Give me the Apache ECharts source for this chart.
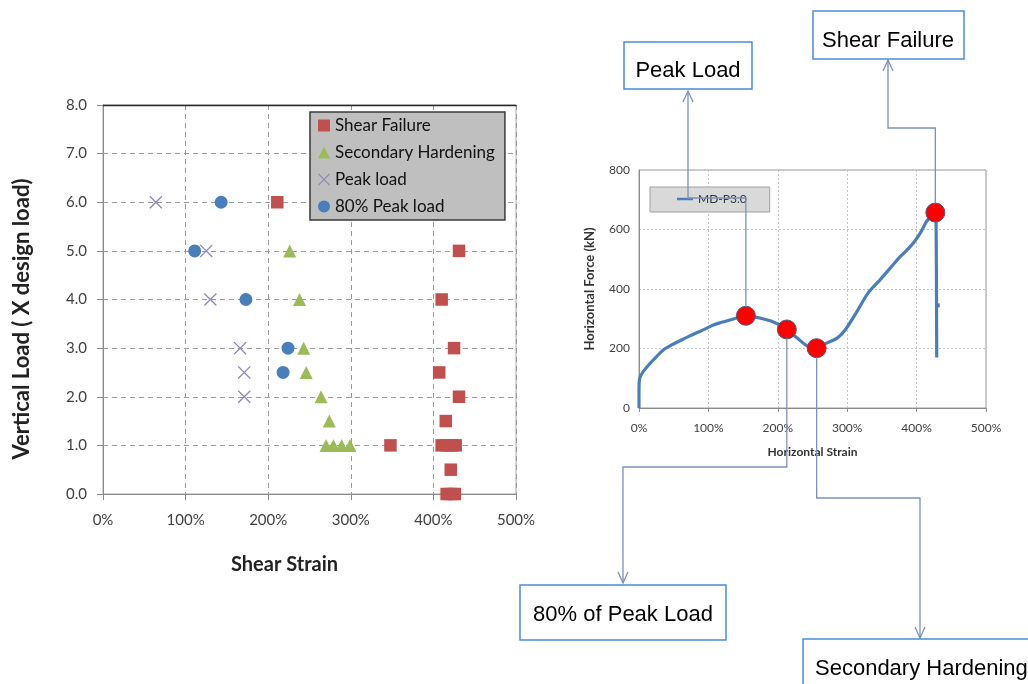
<!DOCTYPE html>
<html>
<head>
<meta charset="utf-8">
<script src="https://cdn.jsdelivr.net/npm/echarts@6/dist/echarts.min.js"></script>
<style>
html,body{margin:0;padding:0;background:#fff;}
#c{width:1028px;height:684px;}
</style>
</head>
<body>
<div id="c"></div>
<script>
// ---------- Left chart data (x in %, y in x design load) ----------
const shearFailureX = [211, 431, 410, 425, 407, 431, 415, 348, 410, 416, 422, 427, 421, 416, 421, 426];
const shearFailureY = [6, 5, 4, 3, 2.5, 2, 1.5, 1, 1, 1, 1, 1, 0.5, 0, 0, 0];
const secHardX = [226, 238, 243, 246, 264, 274, 270, 279, 289, 299];
const secHardY = [5, 4, 3, 2.5, 2, 1.5, 1, 1, 1, 1];
const peakX = [64, 125, 130, 166, 171, 171];
const peakY = [6, 5, 4, 3, 2.5, 2];
const peak80X = [143, 111, 173, 224, 218];
const peak80Y = [6, 5, 4, 3, 2.5];
const leftNames = ['Shear Failure', 'Secondary Hardening', 'Peak load', '80% Peak load'];

// ---------- Right chart data (x in %, y in kN) ----------
const curveX = [0, 0, 1, 6, 16, 25, 35, 47, 59, 71, 83, 95, 107, 119, 131, 143, 154, 164, 177, 189, 201, 213, 228, 244, 256, 270, 285, 297, 314, 330, 347, 362, 376, 386, 395, 405, 414, 422, 427, 428, 429];
const curveY = [0, 60, 100, 122, 150, 172, 195, 212, 226, 240, 253, 265, 279, 288, 296, 304, 310, 307, 301, 293, 281, 264, 235, 206, 201, 218, 234, 262, 324, 386, 430, 470, 508, 531, 554, 587, 626, 648, 657, 650, 170];
const tailX = [431, 431.5];
const tailY = [352, 338];
const markX = [154, 213, 256, 427];
const markY = [310, 264, 201, 657];
const curveName = 'MD-P3.0';

const zip = (a, b) => a.map((v, i) => [v, b[i]]);
const xPath = 'path://M0,0.7L0.7,0L10,9.3L9.3,10Z M9.3,0L10,0.7L0.7,10L0,9.3Z';
const FONT = 'Lato, "Open Sans", sans-serif';

const chart = echarts.init(document.getElementById('c'), null, {renderer: 'canvas'});

const option = {
  backgroundColor: '#ffffff',
  animation: false,
  textStyle: {fontFamily: FONT},
  grid: [
    {left: 103, top: 105, width: 413, height: 389, show: true, borderColor: '#a6a6a6', borderWidth: 1, backgroundColor: 'transparent'},
    {left: 639, top: 170, width: 347, height: 238, show: true, borderColor: '#9a9a9a', borderWidth: 1, backgroundColor: 'transparent'}
  ],
  legend: [
    {
      data: [
        {name: leftNames[0], icon: 'rect'},
        {name: leftNames[1], icon: 'triangle'},
        {name: leftNames[2], icon: xPath},
        {name: leftNames[3], icon: 'circle'}
      ],
      orient: 'vertical', left: 310, top: 112,
      padding: [5, 10, 5, 8],
      itemWidth: 12, itemHeight: 12, itemGap: 10,
      backgroundColor: '#bfbfbf', borderColor: '#3a3a3a', borderWidth: 1.5,
      textStyle: {fontSize: 17, color: '#111', fontFamily: FONT},
      selectedMode: false
    },
    {
      data: [{name: curveName, icon: 'rect'}],
      left: 650, top: 187,
      padding: [6, 23, 7, 27],
      itemWidth: 16, itemHeight: 2.5,
      backgroundColor: '#d9d9d9', borderColor: '#a0a0a0', borderWidth: 1,
      textStyle: {fontSize: 12, color: '#333', fontFamily: FONT},
      selectedMode: false
    }
  ],
  xAxis: [
    {
      gridIndex: 0, type: 'value', min: 0, max: 500, interval: 100,
      name: 'Shear Strain', nameLocation: 'middle', nameGap: 61,
      nameTextStyle: {fontSize: 20, fontWeight: 'bold', color: '#222', fontFamily: FONT, padding: [0, 50, 0, 0]},
      axisLine: {show: true, lineStyle: {color: '#8c8c8c', width: 1}},
      axisTick: {show: true, length: 6, lineStyle: {color: '#8c8c8c'}},
      axisLabel: {formatter: '{value}%', fontSize: 15, color: '#404040', margin: 19, fontFamily: FONT},
      splitLine: {show: true, lineStyle: {color: '#9a9a9a', type: [5, 4], width: 1}}
    },
    {
      gridIndex: 0, type: 'value', min: 0, max: 500, position: 'top',
      axisLine: {show: true, lineStyle: {color: '#2a2a2a', width: 1.3}},
      axisTick: {show: false}, axisLabel: {show: false}, splitLine: {show: false}
    },
    {
      gridIndex: 1, type: 'value', min: 0, max: 500, interval: 100,
      name: 'Horizontal Strain', nameLocation: 'middle', nameGap: 38,
      nameTextStyle: {fontSize: 12, fontWeight: 'bold', color: '#333', fontFamily: FONT},
      axisLine: {show: true, lineStyle: {color: '#8c8c8c', width: 1}},
      axisTick: {show: true, length: 4, lineStyle: {color: '#8c8c8c'}},
      axisLabel: {formatter: '{value}%', fontSize: 12, color: '#404040', margin: 14, fontFamily: FONT},
      splitLine: {show: true, lineStyle: {color: '#c4c4c4', type: [2, 2], width: 1}}
    }
  ],
  yAxis: [
    {
      gridIndex: 0, type: 'value', min: 0, max: 8, interval: 1,
      name: 'Vertical Load ( X design load)', nameLocation: 'middle', nameGap: 70,
      nameTextStyle: {fontSize: 22, fontWeight: 'bold', color: '#222', fontFamily: FONT, padding: [0, 39, 0, 0]},
      axisLine: {show: true, lineStyle: {color: '#8c8c8c', width: 1}},
      axisTick: {show: true, length: 6, lineStyle: {color: '#8c8c8c'}},
      axisLabel: {formatter: v => v.toFixed(1), fontSize: 15, color: '#404040', margin: 16, fontFamily: FONT},
      splitLine: {show: true, lineStyle: {color: '#9a9a9a', type: [5, 4], width: 1}}
    },
    {
      gridIndex: 1, type: 'value', min: 0, max: 800, interval: 200,
      name: 'Horizontal Force (kN)', nameLocation: 'middle', nameGap: 43,
      nameTextStyle: {fontSize: 13, fontWeight: 'bold', color: '#333', fontFamily: FONT},
      axisLine: {show: true, lineStyle: {color: '#8c8c8c', width: 1}},
      axisTick: {show: false},
      axisLabel: {fontSize: 12, color: '#404040', margin: 9, fontFamily: FONT},
      splitLine: {show: true, lineStyle: {color: '#c4c4c4', type: [2, 2], width: 1}}
    }
  ],
  series: [
    {name: leftNames[0], type: 'scatter', xAxisIndex: 0, yAxisIndex: 0, symbol: 'rect', symbolSize: 12.5,
     itemStyle: {color: '#c0504d', opacity: 1}, data: zip(shearFailureX, shearFailureY)},
    {name: leftNames[1], type: 'scatter', xAxisIndex: 0, yAxisIndex: 0, symbol: 'triangle', symbolSize: 13,
     itemStyle: {color: '#9bbb59', opacity: 1}, data: zip(secHardX, secHardY)},
    {name: leftNames[2], type: 'scatter', xAxisIndex: 0, yAxisIndex: 0, symbol: xPath, symbolSize: 13,
     itemStyle: {color: '#8f86b8', opacity: 1}, data: zip(peakX, peakY)},
    {name: leftNames[3], type: 'scatter', xAxisIndex: 0, yAxisIndex: 0, symbol: 'circle', symbolSize: 13,
     itemStyle: {color: '#4a7ebb', opacity: 1}, data: zip(peak80X, peak80Y)},
    {name: curveName, type: 'line', xAxisIndex: 2, yAxisIndex: 1, symbol: 'none', smooth: 0.3,
     lineStyle: {color: '#4a7ebb', width: 3.2}, itemStyle: {color: '#4a7ebb'}, data: zip(curveX, curveY)},
    {name: 'tail', type: 'line', xAxisIndex: 2, yAxisIndex: 1, symbol: 'none',
     lineStyle: {color: '#4a7ebb', width: 3}, data: zip(tailX, tailY)},
    {name: 'marks', type: 'scatter', xAxisIndex: 2, yAxisIndex: 1, symbol: 'circle', symbolSize: 19, z: 5,
     itemStyle: {color: '#ff0000', borderColor: '#4d5a78', borderWidth: 1, opacity: 1}, data: zip(markX, markY)}
  ]
};
chart.setOption(option);

// ---------- Callout annotations ----------
const px = (x, y) => chart.convertToPixel({gridIndex: 1}, [x, y]);
const mPeak = px(markX[0], markY[0]);
const m80 = px(markX[1], markY[1]);
const mSec = px(markX[2], markY[2]);
const mFail = px(markX[3], markY[3]);
const LC = '#7b92b6';
const r = 9;

function line(points) {
  return {type: 'polyline', z: 100, shape: {points}, style: {stroke: LC, lineWidth: 1.3, fill: null}};
}
function arrowUp(x, y) { return line([[x - 5, y + 11], [x, y], [x + 5, y + 11]]); }
function arrowDown(x, y) { return line([[x - 5, y - 11], [x, y], [x + 5, y - 11]]); }
function box(x, y, w, h, text, tx, ty, align) {
  return [
    {type: 'rect', z: 100, shape: {x, y, width: w, height: h},
     style: {fill: '#ffffff', stroke: '#4a8fd4', lineWidth: 1.5}},
    {type: 'text', z: 101, x: tx, y: ty,
     style: {text, fill: '#000', font: '22px "Liberation Sans", Arial, sans-serif', align: align || 'center', verticalAlign: 'middle'}}
  ];
}

const g = [];
g.push(...box(624, 42, 128, 47, 'Peak Load', 688, 71));
g.push(...box(813, 11, 151, 48, 'Shear Failure', 888, 41));
g.push(...box(520, 585, 206, 55, '80% of Peak Load', 623, 615));
g.push(...box(803, 639, 240, 60, 'Secondary Hardening', 815, 669, 'left'));

// Peak load connector (passes through the legend entry)
g.push(line([[688, 91], [688, 198], [mPeak[0], 198], [mPeak[0], mPeak[1] - r]]));
g.push(arrowUp(688, 91));
// Shear failure connector
g.push(line([[888, 60], [888, 128], [mFail[0], 128], [mFail[0], mFail[1] - r]]));
g.push(arrowUp(888, 60));
// 80% connector
g.push(line([[m80[0], m80[1] + r], [m80[0], 467], [623, 467], [623, 583]]));
g.push(arrowDown(623, 583));
// Secondary hardening connector
g.push(line([[mSec[0], mSec[1] + r], [mSec[0], 498], [920, 498], [920, 638]]));
g.push(arrowDown(920, 638));

chart.setOption({graphic: g});
</script>
</body>
</html>
